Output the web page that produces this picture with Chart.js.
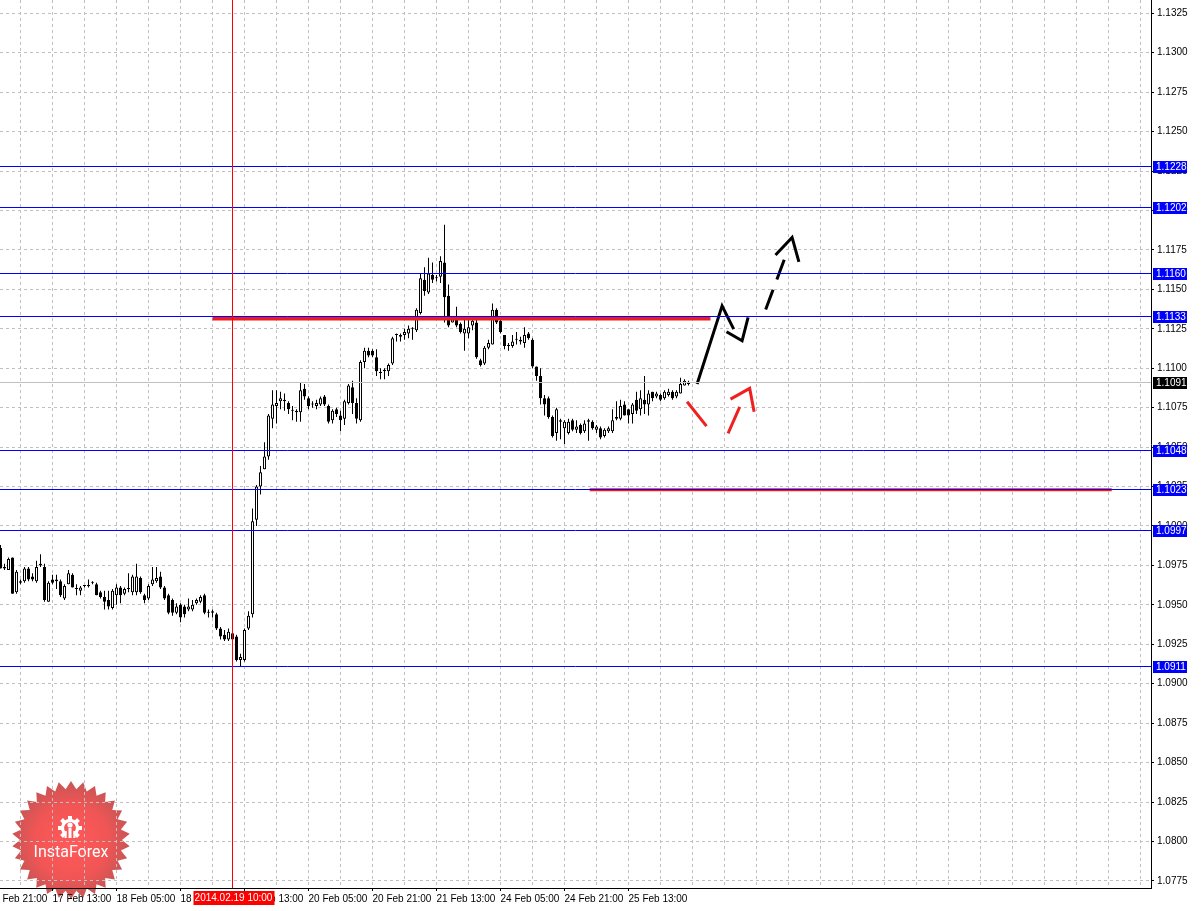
<!DOCTYPE html>
<html>
<head>
<meta charset="utf-8">
<title>EURUSD H1</title>
<script src="https://cdn.jsdelivr.net/npm/chart.js@4.4.1/dist/chart.umd.min.js"></script>
<style>
html, body { margin: 0; padding: 0; background: #fff; }
#wrap { width: 1202px; height: 911px; }
</style>
</head>
<body>
<div id="wrap"><canvas id="chart" width="1202" height="911"></canvas></div>
<script>
// hourly candles, one entry per bar
const opens = [
  1.0986, 1.0974, 1.0972, 1.0980, 1.0958, 1.0964, 1.0965, 1.0973, 1.0968, 1.0965,
  1.0975, 1.0974, 1.0952, 1.0966, 1.0965, 1.0965, 1.0954, 1.0963, 1.0969, 1.0960,
  1.0959, 1.0962, 1.0962, 1.0964, 1.0963, 1.0958, 1.0955, 1.0953, 1.0948, 1.0956,
  1.0961, 1.0957, 1.0960, 1.0958, 1.0958, 1.0967, 1.0956, 1.0954, 1.0963, 1.0965,
  1.0968, 1.0961, 1.0956, 1.0953, 1.0945, 1.0950, 1.0949, 1.0947, 1.0947, 1.0951,
  1.0952, 1.0956, 1.0945, 1.0945, 1.0944, 1.0935, 1.0931, 1.0928, 1.0932, 1.0930,
  1.0915, 1.0915, 1.0935, 1.0944, 1.1004, 1.1025, 1.1036, 1.1044, 1.1068, 1.1076,
  1.1079, 1.1080, 1.1078, 1.1073, 1.1073, 1.1072, 1.1087, 1.1081, 1.1077, 1.1076,
  1.1077, 1.1082, 1.1076, 1.1067, 1.1074, 1.1070, 1.1068, 1.1078, 1.1088, 1.1078,
  1.1067, 1.1104, 1.1111, 1.1111, 1.1107, 1.1097, 1.1099, 1.1098, 1.1103, 1.1121,
  1.1120, 1.1121, 1.1122, 1.1125, 1.1124, 1.1135, 1.1156, 1.1148, 1.1159, 1.1157,
  1.1158, 1.1167, 1.1146, 1.1129, 1.1131, 1.1128, 1.1122, 1.1122, 1.1127, 1.1129,
  1.1105, 1.1103, 1.1113, 1.1115, 1.1137, 1.1130, 1.1121, 1.1114, 1.1114, 1.1118,
  1.1118, 1.1116, 1.1122, 1.1118, 1.1101, 1.1095, 1.1081, 1.1081, 1.1069, 1.1059,
  1.1067, 1.1062, 1.1059, 1.1067, 1.1061, 1.1064, 1.1060, 1.1066, 1.1066, 1.1061,
  1.1062, 1.1057, 1.1060, 1.1060, 1.1068, 1.1068, 1.1077, 1.1074, 1.1071, 1.1080,
  1.1074, 1.1080, 1.1077, 1.1085, 1.1082, 1.1083, 1.1081, 1.1083, 1.1085, 1.1082,
  1.1084, 1.1089, 1.1090
];
const highs = [
  1.0988, 1.0976, 1.0980, 1.0980, 1.0972, 1.0966, 1.0974, 1.0974, 1.0970, 1.0978,
  1.0982, 1.0976, 1.0965, 1.0969, 1.0969, 1.0966, 1.0963, 1.0972, 1.0970, 1.0963,
  1.0962, 1.0962, 1.0966, 1.0965, 1.0964, 1.0959, 1.0959, 1.0959, 1.0960, 1.0963,
  1.0962, 1.0961, 1.0970, 1.0969, 1.0976, 1.0968, 1.0957, 1.0963, 1.0974, 1.0974,
  1.0971, 1.0962, 1.0957, 1.0954, 1.0951, 1.0951, 1.0950, 1.0954, 1.0953, 1.0954,
  1.0956, 1.0957, 1.0947, 1.0947, 1.0945, 1.0936, 1.0934, 1.0935, 1.0933, 1.0931,
  1.0919, 1.0935, 1.0946, 1.1011, 1.1026, 1.1038, 1.1053, 1.1071, 1.1086, 1.1086,
  1.1085, 1.1084, 1.1079, 1.1076, 1.1074, 1.1091, 1.1090, 1.1082, 1.1079, 1.1080,
  1.1082, 1.1083, 1.1077, 1.1074, 1.1075, 1.1073, 1.1080, 1.1090, 1.1092, 1.1081,
  1.1105, 1.1113, 1.1113, 1.1112, 1.1112, 1.1100, 1.1100, 1.1103, 1.1120, 1.1122,
  1.1122, 1.1125, 1.1127, 1.1126, 1.1138, 1.1160, 1.1164, 1.1170, 1.1167, 1.1159,
  1.1171, 1.1191, 1.1153, 1.1133, 1.1139, 1.1129, 1.1131, 1.1131, 1.1133, 1.1131,
  1.1106, 1.1114, 1.1118, 1.1141, 1.1138, 1.1131, 1.1121, 1.1116, 1.1121, 1.1123,
  1.1120, 1.1126, 1.1123, 1.1119, 1.1101, 1.1100, 1.1083, 1.1082, 1.1070, 1.1075,
  1.1068, 1.1067, 1.1068, 1.1068, 1.1067, 1.1065, 1.1067, 1.1068, 1.1067, 1.1064,
  1.1063, 1.1062, 1.1063, 1.1074, 1.1079, 1.1080, 1.1079, 1.1074, 1.1078, 1.1085,
  1.1086, 1.1095, 1.1086, 1.1085, 1.1085, 1.1084, 1.1086, 1.1087, 1.1086, 1.1086,
  1.1094, 1.1093, 1.1092
];
const lows = [
  1.0973, 1.0972, 1.0972, 1.0957, 1.0957, 1.0963, 1.0964, 1.0965, 1.0965, 1.0964,
  1.0974, 1.0952, 1.0952, 1.0963, 1.0960, 1.0955, 1.0953, 1.0963, 1.0961, 1.0956,
  1.0956, 1.0961, 1.0961, 1.0963, 1.0956, 1.0954, 1.0947, 1.0947, 1.0947, 1.0950,
  1.0951, 1.0956, 1.0958, 1.0956, 1.0956, 1.0957, 1.0951, 1.0953, 1.0962, 1.0964,
  1.0960, 1.0953, 1.0944, 1.0943, 1.0944, 1.0939, 1.0942, 1.0946, 1.0946, 1.0950,
  1.0951, 1.0944, 1.0942, 1.0942, 1.0934, 1.0928, 1.0927, 1.0927, 1.0923, 1.0914,
  1.0911, 1.0914, 1.0934, 1.0942, 1.1000, 1.1020, 1.1036, 1.1042, 1.1062, 1.1065,
  1.1074, 1.1073, 1.1071, 1.1067, 1.1066, 1.1066, 1.1080, 1.1074, 1.1075, 1.1074,
  1.1076, 1.1076, 1.1065, 1.1065, 1.1069, 1.1060, 1.1064, 1.1077, 1.1071, 1.1065,
  1.1066, 1.1100, 1.1107, 1.1107, 1.1095, 1.1093, 1.1093, 1.1095, 1.1102, 1.1117,
  1.1117, 1.1118, 1.1119, 1.1118, 1.1123, 1.1134, 1.1146, 1.1147, 1.1154, 1.1155,
  1.1154, 1.1129, 1.1126, 1.1129, 1.1126, 1.1122, 1.1111, 1.1119, 1.1124, 1.1106,
  1.1101, 1.1102, 1.1112, 1.1115, 1.1128, 1.1122, 1.1112, 1.1111, 1.1113, 1.1115,
  1.1115, 1.1113, 1.1118, 1.1100, 1.1092, 1.1077, 1.1070, 1.1068, 1.1056, 1.1054,
  1.1055, 1.1052, 1.1058, 1.1060, 1.1059, 1.1058, 1.1059, 1.1054, 1.1061, 1.1059,
  1.1055, 1.1056, 1.1059, 1.1059, 1.1067, 1.1067, 1.1070, 1.1065, 1.1065, 1.1071,
  1.1070, 1.1071, 1.1070, 1.1079, 1.1081, 1.1079, 1.1080, 1.1082, 1.1080, 1.1081,
  1.1084, 1.1089, 1.1089
];
const closes = [
  1.0973, 1.0973, 1.0979, 1.0957, 1.0971, 1.0965, 1.0973, 1.0966, 1.0966, 1.0974,
  1.0976, 1.0953, 1.0964, 1.0964, 1.0966, 1.0956, 1.0962, 1.0970, 1.0961, 1.0960,
  1.0961, 1.0962, 1.0962, 1.0964, 1.0956, 1.0955, 1.0952, 1.0949, 1.0959, 1.0961,
  1.0956, 1.0960, 1.0960, 1.0968, 1.0968, 1.0958, 1.0953, 1.0962, 1.0966, 1.0967,
  1.0961, 1.0954, 1.0945, 1.0945, 1.0949, 1.0942, 1.0944, 1.0949, 1.0950, 1.0953,
  1.0955, 1.0945, 1.0945, 1.0946, 1.0935, 1.0930, 1.0928, 1.0933, 1.0928, 1.0915,
  1.0917, 1.0934, 1.0943, 1.1003, 1.1025, 1.1034, 1.1044, 1.1070, 1.1077, 1.1078,
  1.1081, 1.1079, 1.1074, 1.1073, 1.1072, 1.1086, 1.1082, 1.1076, 1.1077, 1.1078,
  1.1081, 1.1077, 1.1066, 1.1073, 1.1071, 1.1067, 1.1079, 1.1089, 1.1078, 1.1068,
  1.1104, 1.1111, 1.1108, 1.1108, 1.1098, 1.1097, 1.1098, 1.1102, 1.1119, 1.1121,
  1.1121, 1.1123, 1.1125, 1.1125, 1.1137, 1.1157, 1.1149, 1.1160, 1.1156, 1.1157,
  1.1168, 1.1145, 1.1127, 1.1131, 1.1127, 1.1123, 1.1125, 1.1126, 1.1130, 1.1107,
  1.1102, 1.1113, 1.1116, 1.1137, 1.1129, 1.1123, 1.1114, 1.1114, 1.1117, 1.1118,
  1.1117, 1.1121, 1.1119, 1.1101, 1.1095, 1.1081, 1.1077, 1.1069, 1.1057, 1.1074,
  1.1066, 1.1066, 1.1066, 1.1061, 1.1063, 1.1059, 1.1065, 1.1067, 1.1062, 1.1063,
  1.1056, 1.1061, 1.1062, 1.1067, 1.1069, 1.1076, 1.1070, 1.1070, 1.1077, 1.1073,
  1.1081, 1.1077, 1.1084, 1.1081, 1.1084, 1.1080, 1.1085, 1.1085, 1.1081, 1.1085,
  1.1090, 1.1092, 1.1091
];

// time axis: bar index of each labelled tick and its text
const xTickIndex = [-3, 13, 29, 45, 61, 77, 93, 109, 125, 141, 157];
const xTickLabels = ['16 Feb 21:00', '17 Feb 13:00', '18 Feb 05:00', '18 Feb 21:00', '19 Feb 13:00',
  '20 Feb 05:00', '20 Feb 21:00', '21 Feb 13:00', '24 Feb 05:00', '24 Feb 21:00', '25 Feb 13:00'];

// price axis ticks
const yTicks = [1.0775, 1.0800, 1.0825, 1.0850, 1.0875, 1.0900, 1.0925, 1.0950, 1.0975, 1.1000,
  1.1025, 1.1050, 1.1075, 1.1100, 1.1125, 1.1150, 1.1175, 1.1200, 1.1225, 1.1250,
  1.1275, 1.1300, 1.1325];

// horizontal levels and the last price
const levels = [1.1228, 1.1202, 1.1160, 1.1133, 1.1048, 1.1023, 1.0997, 1.0911];
const lastPrice = 1.1091;

// vertical marker
const markerIndex = 58;
const markerLabel = '2014.02.19 10:00';

// hand drawn lines: [bar index, price] pairs
const redLevelA = [[53, 1.11315], [177.5, 1.11315]];
const redLevelB = [[147.3, 1.1023], [277.8, 1.1023]];
const blackPathA = [[174.15, 1.1090], [180.4, 1.11395], [183.3, 1.11248]];
const blackPathB = [[181.5, 1.11231], [185.4, 1.11174], [186.9, 1.11322]];
const blackDashed = [[191.3, 1.11372], [196.15, 1.11702]];
const blackHead = [[193.75, 1.11717], [197.9, 1.11829], [199.6, 1.11674]];
const redStrokeA = [[171.65, 1.10787], [176.5, 1.10633]];
const redStrokeB = [[181.9, 1.10587], [184.8, 1.10755]];
const redStrokeC = [[182.5, 1.10804], [187.3, 1.10872], [188.4, 1.10724]];

const FONT = "'Liberation Sans', Arial, sans-serif";

function stroke(points, color, width, dash) {
    return {
        type: 'line',
        data: points.map(p => ({x: p[0], y: p[1]})),
        borderColor: color,
        borderWidth: width,
        borderDash: dash || [],
        borderCapStyle: 'butt',
        borderJoinStyle: 'miter',
        pointRadius: 0,
        fill: false,
        tension: 0,
        order: 0
    };
}

function drawBadge(ctx) {
    const cx = 71, cy = 840, R = 59, r = 51, n = 30;
    ctx.save();
    ctx.beginPath();
    for (let k = 0; k < n * 2; k++) {
        const a = Math.PI * k / n - Math.PI / 2;
        const rad = k % 2 ? r : R;
        const px = cx + Math.cos(a) * rad, py = cy + Math.sin(a) * rad;
        if (k == 0) ctx.moveTo(px, py); else ctx.lineTo(px, py);
    }
    ctx.closePath();
    const g = ctx.createRadialGradient(cx, cy + 4, 4, cx, cy, R);
    g.addColorStop(0, 'rgba(255,76,76,0.93)');
    g.addColorStop(0.6, 'rgba(240,72,72,0.93)');
    g.addColorStop(1, 'rgba(196,72,72,0.93)');
    ctx.fillStyle = g;
    ctx.fill();

    // gear icon
    const gx = 70, gy = 828;
    ctx.strokeStyle = '#fff';
    ctx.fillStyle = '#fff';
    ctx.lineWidth = 3.2;
    ctx.beginPath();
    ctx.arc(gx, gy, 7.5, Math.PI * 0.68, Math.PI * 2.32);
    ctx.stroke();
    for (let k = 0; k < 8; k++) {
        const a = k * Math.PI / 4;
        if (k == 2) continue;
        ctx.save();
        ctx.translate(gx + Math.cos(a) * 10, gy + Math.sin(a) * 10);
        ctx.rotate(a);
        ctx.fillRect(-2, -2, 4, 4);
        ctx.restore();
    }
    ctx.beginPath();
    ctx.arc(gx, gy - 3, 2.6, 0, Math.PI * 2);
    ctx.fill();
    ctx.fillRect(gx - 1.5, gy, 3, 10);
    ctx.fillRect(gx - 5.5, gy + 3, 2.2, 7);
    ctx.fillRect(gx + 3.3, gy + 3, 2.2, 7);

    ctx.font = "16px Roboto, 'Noto Sans', sans-serif";
    ctx.textAlign = 'center';
    ctx.textBaseline = 'middle';
    ctx.fillText('InstaForex', cx, 853);
    ctx.restore();
}

const overlay = {
    id: 'overlay',
    beforeDraw(chart) {
        drawBadge(chart.ctx);
    },
    afterDatasetsDraw(chart) {
        const ctx = chart.ctx, area = chart.chartArea;
        const xs = chart.scales.x, ys = chart.scales.y;
        ctx.save();
        ctx.lineWidth = 1;
        // last price line
        let py = Math.floor(ys.getPixelForValue(lastPrice)) + 0.5;
        ctx.strokeStyle = '#c0c0c0';
        ctx.beginPath(); ctx.moveTo(area.left, py); ctx.lineTo(area.right, py); ctx.stroke();
        // levels
        ctx.strokeStyle = '#0000ff';
        levels.forEach(p => {
            const y = Math.floor(ys.getPixelForValue(p)) + 0.5;
            ctx.beginPath(); ctx.moveTo(area.left, y); ctx.lineTo(area.right, y); ctx.stroke();
        });
        // vertical marker
        const mx = Math.floor(xs.getPixelForValue(markerIndex)) + 0.5;
        ctx.strokeStyle = '#ff0000';
        ctx.beginPath(); ctx.moveTo(mx, area.top); ctx.lineTo(mx, area.bottom); ctx.stroke();
        ctx.restore();
    },
    afterDraw(chart) {
        const ctx = chart.ctx, area = chart.chartArea;
        const xs = chart.scales.x, ys = chart.scales.y;
        ctx.save();
        ctx.font = '10px ' + FONT;
        ctx.textBaseline = 'middle';
        ctx.textAlign = 'left';
        const box = (p, bg) => {
            const y = Math.floor(ys.getPixelForValue(p));
            ctx.fillStyle = bg;
            ctx.fillRect(area.right + 2, y - 5, 34, 12);
            ctx.fillStyle = '#fff';
            ctx.fillText(p.toFixed(4), area.right + 5, y + 1);
        };
        levels.forEach(p => box(p, '#0000ff'));
        box(lastPrice, '#000000');

        // time marker label
        const mx = Math.floor(xs.getPixelForValue(markerIndex)) + 0.5;
        ctx.fillStyle = '#ff0000';
        ctx.fillRect(mx - 39, area.bottom + 3, 81, 14);
        ctx.fillStyle = '#fff';
        ctx.textAlign = 'center';
        ctx.fillText(markerLabel, mx + 1, area.bottom + 10);
        ctx.restore();
    }
};

function main() {
    const idx = opens.map((_, i) => i);
    const wicks = idx.map(i => ({x: i, y: [lows[i], highs[i]]}));
    const bodies = idx.map(i => ({x: i, y: [opens[i], closes[i]]}));
    const bodyFill = idx.map(i => closes[i] >= opens[i] ? '#ffffff' : '#000000');

    // grid every 8 bars, labels every 16
    const gridIndex = [];
    for (let v = -3; v <= 285; v += 8) gridIndex.push(v);

    Chart.defaults.font.family = FONT;
    Chart.defaults.font.size = 10;
    Chart.defaults.color = '#000';

    const config = {
        type: 'bar',
        data: {
            datasets: [
                stroke(redLevelA, '#f01c1c', 4),
                stroke(redLevelB, '#f01c1c', 3),
                stroke(blackPathA, '#000', 3),
                stroke(blackPathB, '#000', 3),
                stroke(blackDashed, '#000', 3, [21, 11]),
                stroke(blackHead, '#000', 3),
                stroke(redStrokeA, '#ee2020', 3),
                stroke(redStrokeB, '#ee2020', 3),
                stroke(redStrokeC, '#ee2020', 3),
                {
                    data: bodies,
                    backgroundColor: bodyFill,
                    borderColor: '#000',
                    borderWidth: 1,
                    borderSkipped: false,
                    barThickness: 3,
                    minBarLength: 1,
                    inflateAmount: 0,
                    grouped: false,
                    order: 1
                },
                {
                    data: wicks,
                    backgroundColor: '#000',
                    borderWidth: 0,
                    barThickness: 1,
                    inflateAmount: 0,
                    grouped: false,
                    order: 2
                }
            ]
        },
        options: {
            responsive: false,
            devicePixelRatio: 1,
            animation: false,
            events: [],
            layout: { padding: 0 },
            plugins: {
                legend: { display: false },
                tooltip: { enabled: false }
            },
            scales: {
                x: {
                    type: 'linear',
                    min: -0.125,
                    max: 287.625,
                    offset: false,
                    grid: {
                        offset: false,
                        color: '#c0c0c0',
                        tickLength: 3,
                        tickColor: ctx => xTickIndex.includes(ctx.tick.value) ? '#000' : 'rgba(0,0,0,0)'
                    },
                    border: { color: '#000', dash: [3, 3] },
                    ticks: {
                        autoSkip: false,
                        maxRotation: 0,
                        align: 'start',
                        padding: 2,
                        color: '#000',
                        callback: v => {
                            const k = xTickIndex.indexOf(v);
                            return k >= 0 ? xTickLabels[k] : '';
                        }
                    },
                    afterBuildTicks: s => { s.ticks = gridIndex.map(v => ({value: v})); },
                    afterFit: s => { s.height = 23; s.paddingLeft = 0; s.paddingRight = 0; }
                },
                y: {
                    type: 'linear',
                    position: 'right',
                    min: 1.07705,
                    max: 1.13334,
                    grid: {
                        color: '#c0c0c0',
                        tickLength: 3,
                        tickColor: '#000'
                    },
                    border: { color: '#000', dash: [3, 3] },
                    ticks: {
                        padding: 3,
                        color: '#000',
                        callback: v => v.toFixed(4)
                    },
                    afterBuildTicks: s => { s.ticks = yTicks.map(v => ({value: v})); },
                    afterFit: s => { s.width = 51; s.paddingTop = 0; s.paddingBottom = 0; }
                }
            }
        },
        plugins: [overlay]
    };

    new Chart(document.getElementById('chart').getContext('2d'), config);
}

main();
</script>
</body>
</html>
